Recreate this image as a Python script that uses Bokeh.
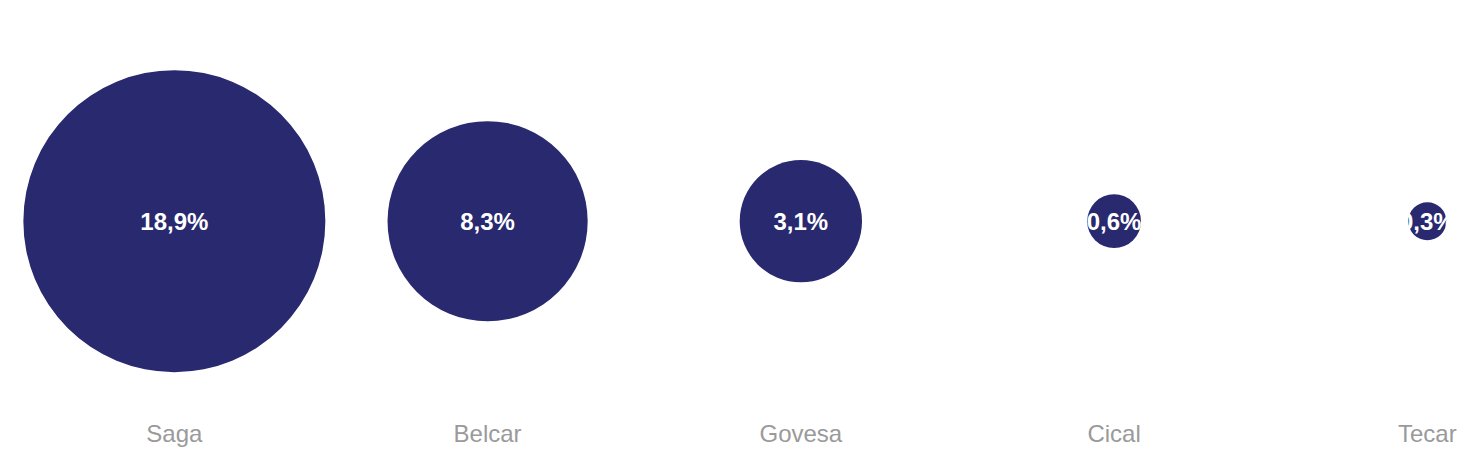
import math

from bokeh.core.properties import value
from bokeh.embed import file_html
from bokeh.models import ColumnDataSource, FixedTicker, Range1d
from bokeh.plotting import figure
from bokeh.resources import INLINE

companies = ["Saga", "Belcar", "Govesa", "Cical", "Tecar"]
shares = [18.9, 8.3, 3.1, 0.6, 0.3]
share_labels = ["18,9%", "8,3%", "3,1%", "0,6%", "0,3%"]

BUBBLE_COLOR = "#28296f"
LABEL_GRAY = "#9a9a9a"
FONT = "Liberation Sans"
MAX_DIAMETER = 302


def plot() -> None:
    positions = list(range(len(companies)))
    # bubble area proportional to share
    sizes = [MAX_DIAMETER * math.sqrt(s / max(shares)) for s in shares]
    source = ColumnDataSource(data=dict(x=positions,
                                        y=[0] * len(shares),
                                        size=sizes,
                                        label=share_labels))

    p = figure(width=1461, height=449,
               x_range=Range1d(-0.555, 4.109),
               y_range=Range1d(-0.835, 1.0),
               output_backend="svg",
               toolbar_location=None,
               min_border_left=0, min_border_right=0,
               min_border_top=0, min_border_bottom=40)

    p.scatter("x", "y", size="size", source=source,
              fill_color=BUBBLE_COLOR, line_color=None)
    p.text("x", "y", text="label", source=source,
           text_color="white",
           text_font=value(FONT),
           text_font_style="bold",
           text_font_size="24px",
           text_align="center",
           text_baseline="middle")

    p.xaxis.ticker = FixedTicker(ticks=positions)
    p.xaxis.major_label_overrides = {i: name for i, name in enumerate(companies)}
    p.xaxis.major_label_text_font = FONT
    p.xaxis.major_label_text_font_size = "24px"
    p.xaxis.major_label_text_color = LABEL_GRAY
    p.xaxis.major_label_standoff = 8
    p.xaxis.axis_line_color = None
    p.xaxis.major_tick_line_color = None
    p.xaxis.minor_tick_line_color = None
    p.yaxis.visible = False

    p.grid.visible = False
    p.outline_line_color = None
    p.background_fill_color = "white"
    p.border_fill_color = "white"

    open("out.html", "w").write(file_html(p, INLINE))


plot()
